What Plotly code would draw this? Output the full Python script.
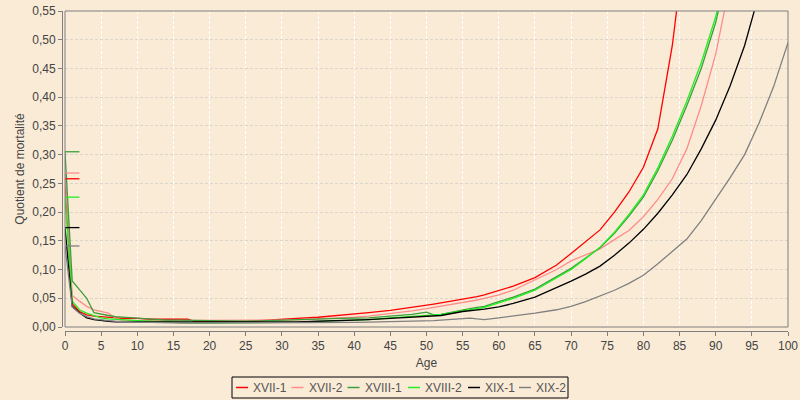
import plotly.graph_objects as go

ages = [0, 1, 2, 3, 4, 5, 6, 7, 8, 10, 12, 14, 16, 17, 18, 20, 22, 25, 28, 30,
        32, 35, 38, 40, 42, 45, 48, 50, 51, 52, 55, 56, 57, 58, 60, 62, 65, 68, 70, 72,
        74, 76, 78, 80, 82, 84, 86, 88, 90, 92, 94, 96, 98, 100]

xvii_1 = [0.258, 0.040, 0.027, 0.021, 0.019, 0.018, 0.017, 0.0156, 0.015, 0.015, 0.0135, 0.0135, 0.0135, 0.0135, 0.0092, 0.0092, 0.0092, 0.0095, 0.012, 0.013,
          0.015, 0.017, 0.020, 0.022, 0.025, 0.029, 0.034, 0.038, 0.040, 0.042, 0.048, 0.050, 0.053, 0.056, 0.063, 0.071, 0.086, 0.108, 0.128, 0.148,
          0.169, 0.200, 0.235, 0.278, 0.345, 0.49, 0.70, 0.90, 1.0, 1.0, 1.0, 1.0, 1.0, 1.0]

xvii_2 = [0.268, 0.055, 0.045, 0.036, 0.030, 0.027, 0.024, 0.015, 0.012, 0.011, 0.011, 0.011, 0.011, 0.011, 0.011, 0.011, 0.011, 0.011, 0.0115, 0.012,
          0.0125, 0.014, 0.016, 0.017, 0.019, 0.023, 0.028, 0.032, 0.034, 0.036, 0.043, 0.045, 0.047, 0.050, 0.056, 0.064, 0.082, 0.100, 0.115, 0.125,
          0.136, 0.152, 0.168, 0.192, 0.222, 0.258, 0.31, 0.385, 0.475, 0.60, 0.78, 1.0, 1.0, 1.0]

xviii_1 = [0.305, 0.080, 0.065, 0.050, 0.025, 0.022, 0.020, 0.018, 0.017, 0.015, 0.013, 0.012, 0.012, 0.012, 0.011, 0.011, 0.0105, 0.010, 0.011, 0.012,
           0.013, 0.014, 0.015, 0.0155, 0.016, 0.019, 0.022, 0.026, 0.021, 0.022, 0.030, 0.032, 0.034, 0.036, 0.044, 0.052, 0.066, 0.087, 0.102, 0.120,
           0.138, 0.163, 0.193, 0.226, 0.272, 0.325, 0.385, 0.450, 0.530, 0.64, 0.80, 1.0, 1.0, 1.0]

xviii_2 = [0.226, 0.045, 0.030, 0.024, 0.020, 0.016, 0.014, 0.013, 0.012, 0.011, 0.010, 0.009, 0.008, 0.007, 0.007, 0.007, 0.007, 0.007, 0.007, 0.008,
           0.0085, 0.010, 0.011, 0.0125, 0.013, 0.016, 0.018, 0.020, 0.021, 0.022, 0.028, 0.030, 0.032, 0.034, 0.042, 0.050, 0.064, 0.085, 0.100, 0.119,
           0.139, 0.165, 0.196, 0.230, 0.277, 0.332, 0.393, 0.460, 0.540, 0.66, 0.82, 1.0, 1.0, 1.0]

xix_1 = [0.173, 0.036, 0.025, 0.016, 0.013, 0.011, 0.010, 0.009, 0.009, 0.009, 0.008, 0.008, 0.008, 0.008, 0.008, 0.008, 0.008, 0.008, 0.008, 0.0085,
         0.009, 0.010, 0.011, 0.0125, 0.013, 0.015, 0.017, 0.018, 0.019, 0.020, 0.027, 0.028, 0.030, 0.031, 0.035, 0.041, 0.052, 0.068, 0.080, 0.092,
         0.106, 0.125, 0.146, 0.170, 0.198, 0.230, 0.265, 0.310, 0.360, 0.420, 0.490, 0.580, 0.68, 0.80]

xix_2 = [0.141, 0.035, 0.024, 0.018, 0.014, 0.012, 0.011, 0.010, 0.009, 0.008, 0.008, 0.007, 0.007, 0.007, 0.007, 0.007, 0.007, 0.007, 0.007, 0.007,
         0.007, 0.007, 0.0075, 0.008, 0.0085, 0.009, 0.0095, 0.010, 0.011, 0.012, 0.014, 0.0155, 0.014, 0.013, 0.016, 0.019, 0.024, 0.030, 0.036, 0.044,
         0.054, 0.064, 0.076, 0.090, 0.110, 0.132, 0.153, 0.185, 0.222, 0.260, 0.300, 0.355, 0.418, 0.495]

names = ['XVII-1', 'XVII-2', 'XVIII-1', 'XVIII-2', 'XIX-1', 'XIX-2']
colors = ['#ff0000', '#ff8c8c', '#3c9e3c', '#22ee22', '#000000', '#808080']
series = [xvii_1, xvii_2, xviii_1, xviii_2, xix_1, xix_2]

bg = '#faebd7'
axis_col = '#7f7f7f'
font_col = '#444444'
font_family = 'Liberation Sans'

# page geometry (pixels), used to place the hand-made legend
W, H = 800, 400
ML, MR, MT, MB = 62, 12, 11, 69
PW, PH = W - ML - MR, H - MT - MB


def px(x):
    return (x - ML) / PW


def py(y):
    return (H - MB - y) / PH


fig = go.Figure()

for name, color, q in zip(names, colors, series):
    fig.add_trace(go.Scatter(x=ages, y=q, mode='lines', name=name, showlegend=False,
                             line=dict(color=color, width=1.3)))

# short marks showing q0 for each series
for name, color, q in zip(names, colors, series):
    fig.add_trace(go.Scatter(x=[0, 2], y=[q[0], q[0]], mode='lines', showlegend=False,
                             line=dict(color=color, width=1.3), hoverinfo='skip'))

fig.update_xaxes(range=[0, 100], domain=[3 / PW, 1], anchor='free', position=0,
                 tickmode='linear', tick0=0, dtick=5, ticks='outside', ticklen=4,
                 tickcolor=axis_col, showline=True, linecolor=axis_col, linewidth=1,
                 showgrid=True, gridcolor='white', griddash='3px,2px', gridwidth=1,
                 zeroline=False, automargin=False, tickfont=dict(size=12, color=font_col),
                 title=dict(text='Age', font=dict(size=12, color=font_col), standoff=6))

fig.update_yaxes(range=[0, 0.55], domain=[4 / PH, 1], anchor='free', position=0,
                 tickmode='linear', tick0=0, dtick=0.05, tickformat='.2f',
                 ticks='outside', ticklen=4, tickcolor=axis_col,
                 showline=True, linecolor=axis_col, linewidth=1,
                 showgrid=True, gridcolor='#dcd5ca', griddash='3px,2px', gridwidth=1,
                 zeroline=False, automargin=False, tickfont=dict(size=12, color=font_col),
                 title=dict(text='Quotient de mortalité', font=dict(size=12, color=font_col), standoff=4))

# plot border
fig.add_shape(type='rect', xref='x domain', yref='y domain', x0=0, x1=1, y0=0, y1=1,
              line=dict(color=axis_col, width=1), layer='above')

# legend box under the chart
fig.add_shape(type='rect', xref='paper', yref='paper', x0=px(232), x1=px(568),
              y0=py(398), y1=py(377), line=dict(color='black', width=1),
              fillcolor=bg, layer='above')
leg_x = [236, 291.5, 347.5, 408, 468, 519]
for name, color, x0 in zip(names, colors, leg_x):
    fig.add_shape(type='line', xref='paper', yref='paper', x0=px(x0), x1=px(x0 + 12),
                  y0=py(387.5), y1=py(387.5), line=dict(color=color, width=1.5))
    fig.add_annotation(text=name, xref='paper', yref='paper', x=px(x0 + 15), y=py(388),
                       xanchor='left', yanchor='middle', showarrow=False,
                       font=dict(size=12, color='#555555', family=font_family))

fig.update_layout(
    width=W, height=H,
    margin=dict(l=ML, r=MR, t=MT, b=MB),
    paper_bgcolor=bg, plot_bgcolor=bg,
    separators=', ',
    font=dict(family=font_family, size=12, color=font_col),
    showlegend=False,
)

# the page's default body margin would shift the 800x400 figure
fig.write_html("out.html", config={'displayModeBar': False},
               post_script="document.body.style.margin='0';")
